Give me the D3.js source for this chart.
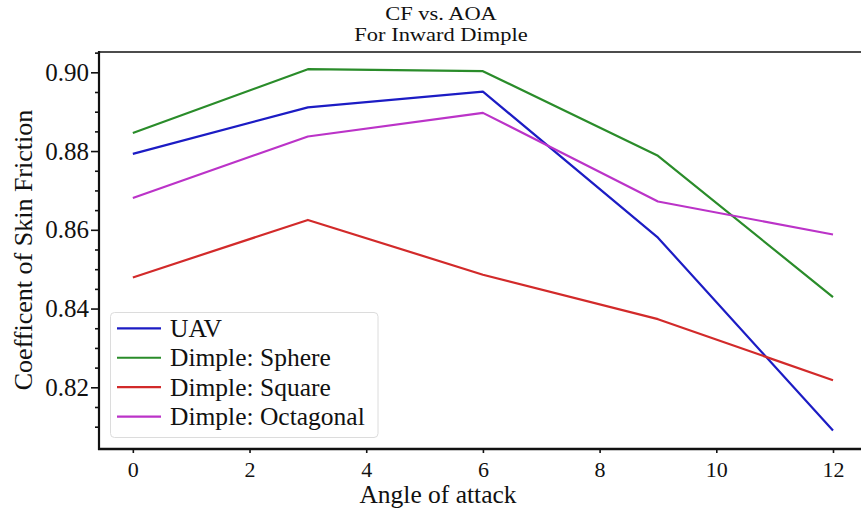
<!DOCTYPE html>
<html>
<head>
<meta charset="utf-8">
<script src="https://cdn.jsdelivr.net/npm/d3@7"></script>
<style>
  body { margin: 0; background: #fff; }
</style>
</head>
<body>
<script>
// angle of attack (deg)
var angles = [0, 3, 6, 9, 12];

// skin friction coefficient per configuration
var uav       = [0.8793, 0.8911, 0.8951, 0.8580, 0.8090];
var sphere    = [0.8846, 0.9008, 0.9003, 0.8788, 0.8429];
var square    = [0.8479, 0.8625, 0.8486, 0.8373, 0.8218];
var octagonal = [0.8681, 0.8837, 0.8897, 0.8672, 0.8588];

var seriesNames = ["UAV", "Dimple: Sphere", "Dimple: Square", "Dimple: Octagonal"];
var seriesColors = ["#1c1cc4", "#2a8c2a", "#d22a2a", "#bb33c8"];

var xTicks = [0, 2, 4, 6, 8, 10, 12];
var yTicks = [0.82, 0.84, 0.86, 0.88, 0.90];

var titleLines = ["CF vs. AOA", "For Inward Dimple"];

var serif = '"Liberation Serif", "Times New Roman", serif';
var width = 861, height = 514;

var svg = d3.select("body").append("svg")
    .attr("width", width)
    .attr("height", height);

var x = d3.scaleLinear().domain([-0.58, 12.48]).range([99, 861]);
var y = d3.scaleLinear().domain([0.80433, 0.90516]).range([449, 52]);

let series = [uav, sphere, square, octagonal].map((vals, i) => ({
    name: seriesNames[i],
    color: seriesColors[i],
    points: vals.map((v, j) => [angles[j], v])
}));

function label(sel, size) {
    return sel.style("font-family", serif).style("font-size", size + "px").attr("fill", "#111");
}

// title: two tight lines, slightly stretched sideways like the source
svg.append("g").selectAll("g")
    .data(titleLines)
    .join("g")
        .attr("transform", (t, i) => "translate(441," + (19.5 + i * 21.5) + ") scale(1.17,1)")
    .call(g => label(g.append("text").attr("text-anchor", "middle"), 19.2).text(t => t));

// lines
let line = d3.line().x(d => x(d[0])).y(d => y(d[1]));
svg.append("g").selectAll("path")
    .data(series)
    .join("path")
        .attr("d", s => line(s.points))
        .attr("fill", "none")
        .attr("stroke", s => s.color)
        .attr("stroke-width", 2.2)
        .attr("stroke-linejoin", "round");

// top spine
svg.append("line").attr("x1", 99).attr("x2", 861).attr("y1", 52).attr("y2", 52)
    .attr("stroke", "#111").attr("stroke-width", 1.6);

// y axis (major + minor ticks)
let yMinor = d3.range(0.81, 0.9051, 0.005)
    .filter(v => !yTicks.some(t => Math.abs(t - v) < 1e-6));
let yMinorAxis = svg.append("g").attr("transform", "translate(99,0)")
    .call(d3.axisLeft(y).tickValues(yMinor).tickSize(4).tickFormat(""));
let yAxis = svg.append("g").attr("transform", "translate(99,0)")
    .call(d3.axisLeft(y).tickValues(yTicks).tickSize(8).tickPadding(2).tickFormat(d3.format(".2f")));
label(yAxis.selectAll("text"), 25).attr("dy", "0.32em");
[yMinorAxis, yAxis].forEach(a => {
    a.select(".domain").remove();
    a.selectAll("line").attr("stroke", "#111").attr("stroke-width", 1.6);
});
svg.append("line").attr("x1", 99).attr("x2", 99).attr("y1", 51).attr("y2", 450)
    .attr("stroke", "#111").attr("stroke-width", 2.2);

// x axis
let xAxis = svg.append("g").attr("transform", "translate(0,449)")
    .call(d3.axisBottom(x).tickValues(xTicks).tickSize(4).tickPadding(8));
xAxis.select(".domain").remove();
xAxis.selectAll("line").attr("stroke", "#111").attr("stroke-width", 1.6);
label(xAxis.selectAll("text"), 22).attr("dy", "0.71em");
svg.append("line").attr("x1", 98).attr("x2", 861).attr("y1", 449).attr("y2", 449)
    .attr("stroke", "#111").attr("stroke-width", 2.6);

// axis labels
label(svg.append("text").attr("x", 438).attr("y", 503)
    .attr("text-anchor", "middle"), 25.5)
    .text("Angle of attack");
label(svg.append("text")
    .attr("transform", "translate(32,250) rotate(-90)")
    .attr("text-anchor", "middle"), 26)
    .text("Coefficent of Skin Friction");

// legend
let legend = svg.append("g");
legend.append("rect")
    .attr("x", 110.5).attr("y", 312.5).attr("width", 267.5).attr("height", 125)
    .attr("rx", 4).attr("fill", "#fff").attr("fill-opacity", 0.85)
    .attr("stroke", "#dcdcdc").attr("stroke-width", 1);
let rows = legend.selectAll("g.row")
    .data(series)
    .join("g")
        .attr("class", "row")
        .attr("transform", (s, i) => "translate(0," + (328.3 + i * 29.45) + ")");
rows.append("line")
    .attr("x1", 117).attr("x2", 161).attr("y1", 0).attr("y2", 0)
    .attr("stroke", s => s.color).attr("stroke-width", 2.2);
label(rows.append("text")
    .attr("x", 170).attr("y", 8.5), 25.5)
    .text(s => s.name);
</script>
</body>
</html>
